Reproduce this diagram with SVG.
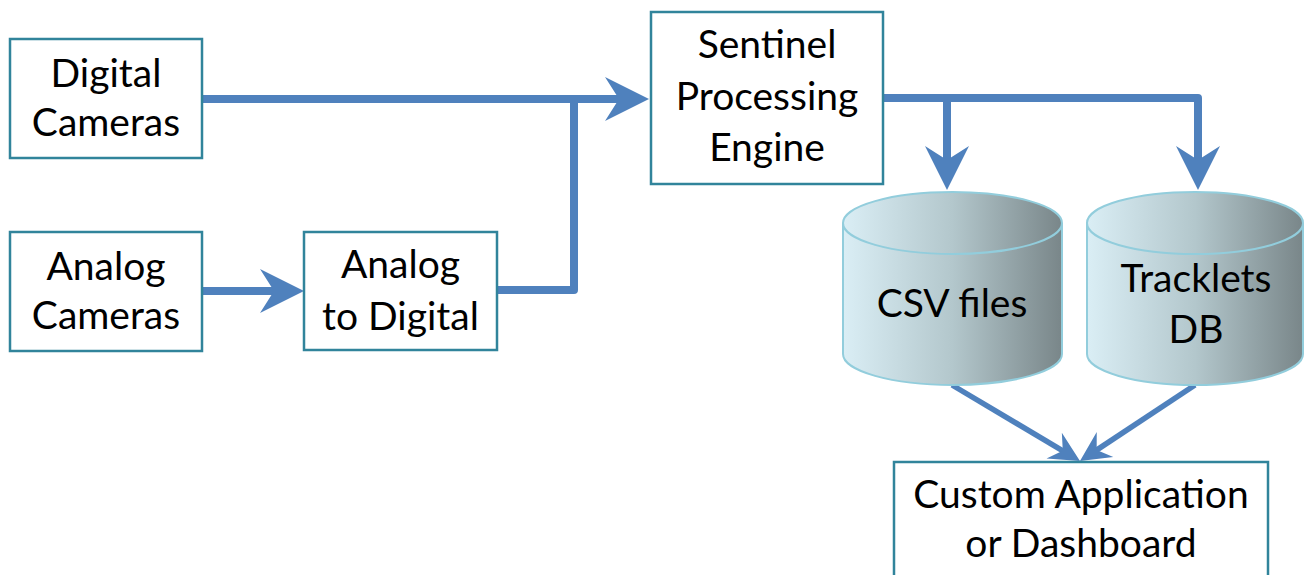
<svg xmlns="http://www.w3.org/2000/svg" width="1304" height="575" viewBox="0 0 1304 575">
<style>
.box{fill:#fff;stroke:#31849b;stroke-width:2.5}
.t{font-family:Lato,"Liberation Sans",sans-serif;font-size:39px;fill:#000;text-anchor:middle}
.c{fill:none;stroke:#4f81bd;stroke-width:8;stroke-linejoin:round}
.d{fill:none;stroke:#4f81bd;stroke-width:5.5}
.cyl{fill:url(#g);stroke:#92cddc;stroke-width:2}
</style>
<defs>
<linearGradient id="g" x1="0" y1="0" x2="1" y2="0">
<stop offset="0" stop-color="#daeef5"/>
<stop offset="0.5" stop-color="#b3c7cc"/>
<stop offset="1" stop-color="#798689"/>
</linearGradient>
<marker id="ah" viewBox="-46 -24 48 48" refX="-28" refY="0" markerWidth="48" markerHeight="48" markerUnits="userSpaceOnUse" orient="auto">
<path d="M0,0 L-44,-22 L-30,0 L-44,22 Z" fill="#4f81bd"/>
</marker>
<marker id="as" viewBox="-32 -16 34 32" refX="-18" refY="0" markerWidth="34" markerHeight="32" markerUnits="userSpaceOnUse" orient="auto">
<path d="M0,0 L-30,-15 L-20,0 L-30,15 Z" fill="#4f81bd"/>
</marker>
</defs>
<g id="connectors">
<path class="c" d="M202,99 H621" marker-end="url(#ah)"/>
<path class="c" d="M497,290 H574 V99"/>
<path class="c" d="M202,291 H276" marker-end="url(#ah)"/>
<path class="c" d="M883,98 H1198 V162" marker-end="url(#ah)"/>
<path class="c" d="M947,98 V162" marker-end="url(#ah)"/>
<path class="d" d="M952,385 L1064.5,451.8" marker-end="url(#as)"/>
<path class="d" d="M1195,385 L1095,451.1" marker-end="url(#as)"/>
</g>
<g id="digital-cameras">
<rect class="box" x="10" y="39" width="192" height="119"/>
<text class="t" x="106" y="87">Digital</text>
<text class="t" x="106" y="136">Cameras</text>
</g>
<g id="analog-cameras">
<rect class="box" x="10" y="232" width="192" height="119"/>
<text class="t" x="106" y="280">Analog</text>
<text class="t" x="106" y="329">Cameras</text>
</g>
<g id="analog-to-digital">
<rect class="box" x="304" y="232" width="193" height="118"/>
<text class="t" x="400.5" y="278">Analog</text>
<text class="t" x="400.5" y="330">to Digital</text>
</g>
<g id="sentinel">
<rect class="box" x="651" y="12" width="232" height="172"/>
<text class="t" x="767" y="58">Sentinel</text>
<text class="t" x="767" y="110">Processing</text>
<text class="t" x="767" y="161">Engine</text>
</g>
<g id="csv-files">
<path class="cyl" d="M843,223 A109.5,31 0 0 1 1062,223 V354 A109.5,31 0 0 1 843,354 Z"/>
<path class="cyl" d="M843,223 A109.5,31 0 0 0 1062,223"/>
<text class="t" x="952" y="317">CSV files</text>
</g>
<g id="tracklets-db">
<path class="cyl" d="M1087,223 A108,31 0 0 1 1303,223 V354 A108,31 0 0 1 1087,354 Z"/>
<path class="cyl" d="M1087,223 A108,31 0 0 0 1303,223"/>
<text class="t" x="1196" y="292">Tracklets</text>
<text class="t" x="1196" y="343">DB</text>
</g>
<g id="custom-app">
<rect class="box" x="894" y="462" width="374" height="130"/>
<text class="t" x="1081" y="508">Custom Application</text>
<text class="t" x="1081" y="557">or Dashboard</text>
</g>
</svg>
